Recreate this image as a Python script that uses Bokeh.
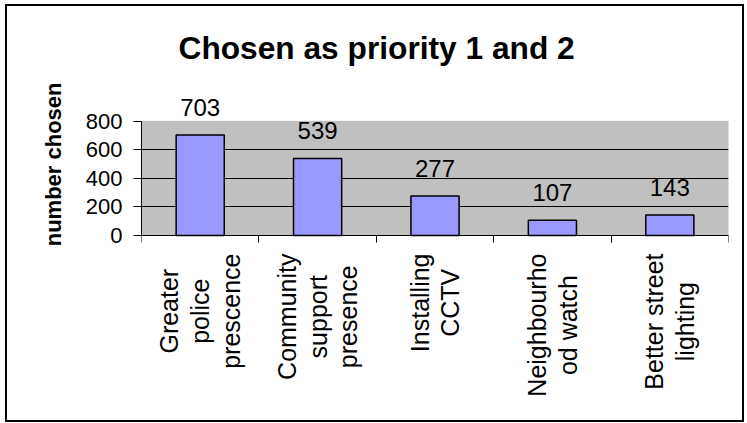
import math
from bokeh.plotting import figure
from bokeh.models import (ColumnDataSource, FixedTicker, LabelSet, Range1d,
                          Title, BoxAnnotation)
from bokeh.core.properties import value
from bokeh.embed import file_html
from bokeh.resources import INLINE

# ---- data ----
category_labels = [
    "Greater\npolice\nprescence",
    "Community\nsupport\npresence",
    "Installing\nCCTV",
    "Neighbourho\nod watch",
    "Better street\nlighting",
]
values = [703, 539, 277, 107, 143]
y_ticks = [0, 200, 400, 600, 800]
grid_ticks = [200, 400, 600]
title_text = "Chosen as priority 1 and 2"
y_title = "number chosen"

FONT = "Liberation Sans"

# ---- layout constants (page pixels) ----
FIG_LEFT, FIG_TOP, FIG_W, FIG_H = 5, 4, 739, 418
FRAME_LEFT, FRAME_RIGHT = 141, 728
FRAME_TOP, FRAME_BOTTOM = 88, 408
ZERO_Y, MAX_Y = 235, 120.7

n = len(values)
centers = [i + 0.5 for i in range(n)]
bounds = [float(i) for i in range(n + 1)]
ymax_val = y_ticks[-1]
ppu = (ZERO_Y - MAX_Y) / ymax_val
y_lo = -(FRAME_BOTTOM - ZERO_Y) / ppu
y_hi = (ZERO_Y - FRAME_TOP) / ppu

src = ColumnDataSource(dict(x=centers, top=values, label=[str(v) for v in values]))
cat_src = ColumnDataSource(dict(x=centers, y=[y_ticks[0]] * n, text=category_labels))

p = figure(
    width=FIG_W, height=FIG_H,
    x_range=Range1d(0, n), y_range=Range1d(y_lo, y_hi),
    output_backend="svg", toolbar_location=None,
    min_border_left=FRAME_LEFT - FIG_LEFT,
    min_border_right=FIG_LEFT + FIG_W - FRAME_RIGHT,
    min_border_top=FRAME_TOP - FIG_TOP,
    min_border_bottom=FIG_TOP + FIG_H - FRAME_BOTTOM,
)
p.margin = (FIG_TOP, 0, 0, FIG_LEFT)
p.styles = {"outline": "2px solid black", "outline-offset": "-2px"}

p.title = Title(
    text=title_text, align="left", offset=37, standoff=45,
    text_font=FONT, text_font_size="31.7px", text_font_style="bold",
    text_color="black",
)

p.background_fill_color = None
p.border_fill_color = None
p.outline_line_color = None

plot_area = BoxAnnotation(left=0, right=n, bottom=y_ticks[0], top=y_ticks[-1],
                          fill_color="#C0C0C0", fill_alpha=1.0,
                          line_color="#808080", line_width=1, level="image")
p.add_layout(plot_area)

p.vbar(x="x", top="top", bottom=0, width=0.41, source=src,
       fill_color="#9999FF", line_color="black", line_width=1.5)

labels = LabelSet(x="x", y="top", text="label", source=src, y_offset=19,
                  text_align="center", text_baseline="alphabetic",
                  text_font=value(FONT), text_font_size="24px", text_color="black")
p.add_layout(labels)

p.text(x="x", y="y", text="text", source=cat_src, angle=math.pi / 2,
       anchor="center_right", text_align="center", y_offset=18,
       text_font=value(FONT), text_font_size="25px", text_line_height=1.1,
       text_color="black")

# x axis (line at zero, boundary ticks)
xa = p.xaxis[0]
xa.fixed_location = 0
xa.ticker = FixedTicker(ticks=[], minor_ticks=bounds)
xa.major_label_text_font_size = "0px"
xa.major_tick_out = 0
xa.major_tick_in = 0
xa.minor_tick_out = 7
xa.minor_tick_in = 0
xa.minor_tick_line_color = "black"
xa.axis_line_color = "black"
xa.major_label_standoff = 0

# y axis
ya = p.yaxis[0]
ya.bounds = (y_ticks[0], y_ticks[-1])
ya.ticker = FixedTicker(ticks=y_ticks)
ya.major_tick_out = 8
ya.major_tick_in = 0
ya.minor_tick_line_color = None
ya.axis_line_color = "black"
ya.major_tick_line_color = "black"
ya.major_label_standoff = 11
ya.major_label_text_font = FONT
ya.major_label_text_font_size = "22px"
ya.major_label_text_color = "black"

p.add_layout(Title(text=y_title, align="right", offset=-6, standoff=34,
                   text_font=FONT, text_font_size="22px",
                   text_font_style="bold", text_color="black"), "left")

p.xgrid.visible = False
p.ygrid.ticker = FixedTicker(ticks=grid_ticks)
p.ygrid.grid_line_color = "black"
p.ygrid.grid_line_width = 1

open("out.html", "w").write(file_html(p, INLINE))
